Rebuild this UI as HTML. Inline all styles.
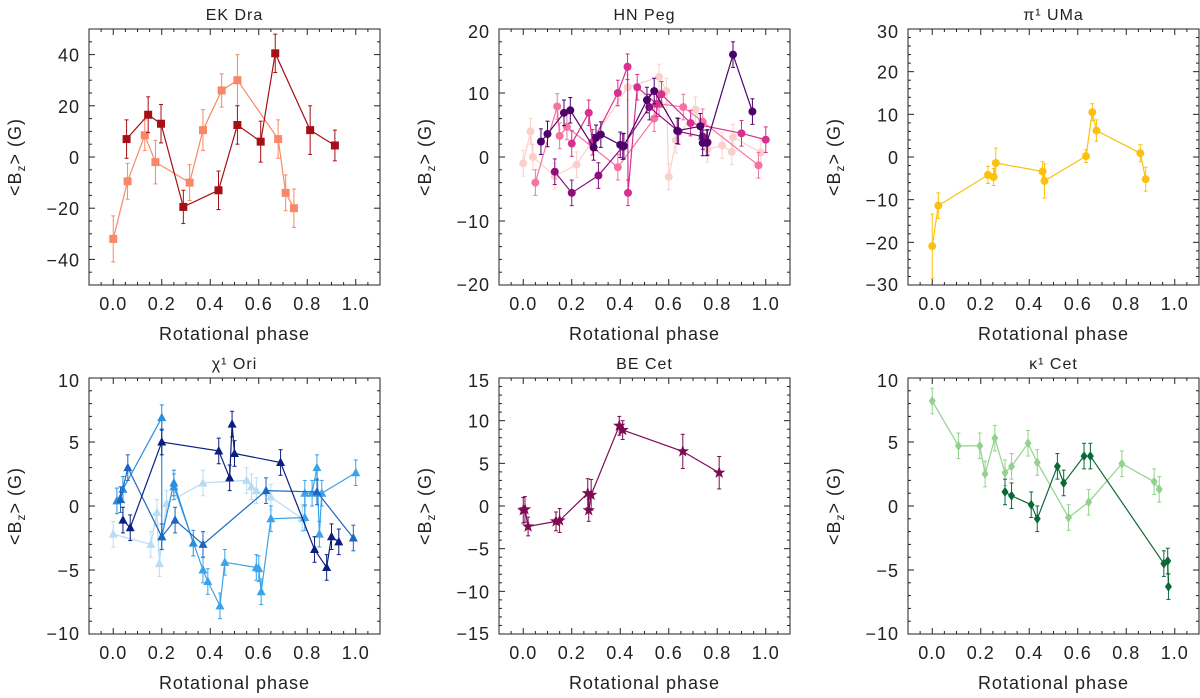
<!DOCTYPE html>
<html><head><meta charset="utf-8">
<style>
html,body{margin:0;padding:0;background:#fff;}
svg{display:block;font-family:"Liberation Sans",Arial,sans-serif;}
</style></head>
<body>
<svg id="fig" width="1200" height="698" viewBox="0 0 1200 698" xmlns="http://www.w3.org/2000/svg"></svg>
<script>
// ---- EK Dra ----
const ekDarkX=[0.055,0.144,0.197,0.289,0.434,0.512,0.608,0.668,0.812,0.914];
const ekDarkY=[7,16.5,13,-19.5,-13,12.5,6,40.5,10.5,4.5];
const ekDarkE=[7.5,7,7.5,6.5,7.5,7.5,8,7.5,9.5,6];
const ekLightX=[0,0.059,0.13,0.174,0.315,0.37,0.447,0.512,0.68,0.711,0.745];
const ekLightY=[-32,-9.5,8.5,-2,-10,10.5,26,30,7,-14,-20];
const ekLightE=[9,7,6,8.5,7,8,6.5,10,7.5,7,7.5];
// ---- HN Peg ----
const hnS1X=[0.073,0.10,0.168,0.194,0.29,0.30,0.32,0.40,0.415,0.51,0.54,0.635,0.73,0.74,0.757,0.865,0.945];
const hnS1Y=[2.4,3.6,6.9,7.3,1.5,3,3.5,1.9,1.7,8.9,10.3,4.1,4.8,2.2,2.2,16,7.1];
const hnS2X=[0.13,0.2,0.31,0.41,0.52,0.64,0.74,0.76];
const hnS2Y=[-2.3,-5.6,-2.9,1.6,7.8,4,3.2,2.3];
const hnS3X=[0.2,0.27,0.285,0.39,0.43,0.432,0.47,0.55,0.57,0.69,0.9,1.0];
const hnS3Y=[2.1,6.9,2.3,10,14.1,-5.6,10.9,8.3,9.8,5.3,3.7,2.7];
const hnS4X=[0.05,0.14,0.15,0.18,0.39,0.54,0.56,0.66,0.74,0.97];
const hnS4Y=[-4,7.9,3.3,4.7,-1.6,6,8.3,7.8,5.5,-1.3];
const hnS5X=[0,0.03,0.04,0.13,0.22,0.43,0.56,0.59,0.6,0.63,0.71,0.76,0.82,0.86,0.865,0.98];
const hnS5Y=[-1,4,0,-3,-1.2,10.9,12.5,10.3,-3.1,2.6,7.4,1.2,1.8,0.8,3.1,0.7];
// ---- pi1 UMa ----
const piX=[0,0.025,0.23,0.253,0.262,0.455,0.463,0.634,0.66,0.677,0.858,0.88];
const piY=[-20.9,-11.4,-4.2,-4.7,-1.4,-3.4,-5.6,0.2,10.5,6.2,0.9,-5.2];
const piE=[7.5,3,2,2,3.5,2.3,4,1.5,2,2.5,2,2.8];
// ---- chi1 Ori ----
const chiAX=[0.04,0.07,0.2,0.435,0.48,0.49,0.5,0.69,0.83,0.88,0.9,0.93];
const chiAY=[-1.1,-1.7,5,4.3,2.2,6.4,4.1,3.4,-3.4,-4.8,-2.4,-2.8];
const chiBX=[0.015,0.04,0.2,0.2,0.25,0.33];
const chiBY=[0.4,1.3,6.9,-2.4,1.8,-2.9];
const chiCX=[0.03,0.06,0.2,0.255,0.37,0.63,0.84,0.99];
const chiCY=[0.5,3,-2.4,-1.1,-3,1.2,1.1,-2.5];
const chiDX=[0.25,0.37,0.39,0.44,0.46,0.59,0.6,0.61,0.65,0.79,0.79,0.82,0.84,0.85,0.86,1.0];
const chiDY=[1.5,-5,-5.9,-7.8,-4.4,-4.8,-4.9,-6.7,-1,-0.9,1,1,3,-2.2,1,2.6];
const chiEX=[0,0.155,0.18,0.19,0.22,0.37,0.55,0.57,0.59,0.65,0.78,0.78];
const chiEY=[-2.2,-3,-0.5,-4.5,0.2,1.8,2,1.5,1.2,0.7,-1,-0.9];
// ---- BE Cet ----
const beX=[0,0.007,0.02,0.135,0.15,0.266,0.27,0.28,0.396,0.41,0.658,0.808];
const beY=[-0.5,-0.4,-2.4,-1.8,-1.7,1.5,-0.5,1.3,9.4,8.9,6.4,3.9];
const beE=[1.5,1.5,1.1,1.1,1.4,1.7,1.3,1.8,1.1,1.1,2,1.9];
// ---- kappa1 Cet ----
const kaLX=[0,0.108,0.196,0.218,0.258,0.3,0.327,0.395,0.433,0.562,0.645,0.782,0.915,0.936];
const kaLY=[8.2,4.7,4.7,2.5,5.3,2.6,3.1,4.9,3.4,-0.9,0.3,3.3,1.9,1.3];
const kaDX=[0.30,0.327,0.408,0.433,0.516,0.542,0.626,0.652,0.955,0.971,0.974];
const kaDY=[1.1,0.8,0.1,-1,3.1,1.8,3.9,3.9,-4.5,-4.3,-6.3];

const NS="http://www.w3.org/2000/svg";
const svg=document.getElementById('fig');
function mk(tag,attrs,parent){const e=document.createElementNS(NS,tag);for(const k in attrs)e.setAttribute(k,attrs[k]);(parent||svg).appendChild(e);return e;}

const panels=[
 {name:'ek-dra',title:'EK Dra',left:89,top:29,ymin:-50,ymax:50,major:20,minor:5,ticks:[-40,-20,0,20,40],
  series:[{n:'ek-dra-light',x:ekLightX,y:ekLightY,e:ekLightE,c:'#f98866',m:'sq'},{n:'ek-dra-dark',x:ekDarkX,y:ekDarkY,e:ekDarkE,c:'#a50f15',m:'sq'}]},
 {name:'hn-peg',title:'HN Peg',left:499,top:29,ymin:-20,ymax:20,major:10,minor:2,ticks:[-20,-10,0,10,20],
  series:[{n:'hn-peg-s5',x:hnS5X,y:hnS5Y,c:'#fbcfcb',m:'ci'},{n:'hn-peg-s4',x:hnS4X,y:hnS4Y,c:'#f4749f',m:'ci'},{n:'hn-peg-s3',x:hnS3X,y:hnS3Y,c:'#d9308f',m:'ci'},{n:'hn-peg-s2',x:hnS2X,y:hnS2Y,c:'#8c0f7e',m:'ci'},{n:'hn-peg-s1',x:hnS1X,y:hnS1Y,c:'#4d026b',m:'ci'}]},
 {name:'pi1-uma',title:'π¹ UMa',left:908,top:29,ymin:-30,ymax:30,major:10,minor:2,ticks:[-30,-20,-10,0,10,20,30],
  series:[{n:'pi1-uma-series',x:piX,y:piY,e:piE,c:'#fcc10f',m:'ci'}]},
 {name:'chi1-ori',title:'χ¹ Ori',left:89,top:378,ymin:-10,ymax:10,major:5,minor:1,ticks:[-10,-5,0,5,10],
  series:[{n:'chi1-ori-e',x:chiEX,y:chiEY,c:'#b7dcf4',m:'tr'},{n:'chi1-ori-d',x:chiDX,y:chiDY,c:'#3aa3ea',m:'tr'},{n:'chi1-ori-b',x:chiBX,y:chiBY,c:'#2a8ee0',m:'tr'},{n:'chi1-ori-c',x:chiCX,y:chiCY,c:'#1a68c2',m:'tr'},{n:'chi1-ori-a',x:chiAX,y:chiAY,c:'#0c1f80',m:'tr'}]},
 {name:'be-cet',title:'BE Cet',left:499,top:378,ymin:-15,ymax:15,major:5,minor:1,ticks:[-15,-10,-5,0,5,10,15],
  series:[{n:'be-cet-series',x:beX,y:beY,e:beE,c:'#7d0a52',m:'st'}]},
 {name:'kappa1-cet',title:'κ¹ Cet',left:908,top:378,ymin:-10,ymax:10,major:5,minor:1,ticks:[-10,-5,0,5,10],
  series:[{n:'kappa1-cet-light',x:kaLX,y:kaLY,c:'#93d28c',m:'di'},{n:'kappa1-cet-dark',x:kaDX,y:kaDY,c:'#0a6a36',m:'di'}]}
];
const W=291,H=256,XMIN=-0.1,XMAX=1.1;
function fmt(v){return v<0?'\u2212'+Math.abs(v):String(v);}
function fmtx(v){return v.toFixed(1);}

panels.forEach(p=>{
 const g=mk('g',{});
 
 
 const sx=v=>p.left+(v-XMIN)/(XMAX-XMIN)*W;
 const sy=v=>p.top+(p.ymax-v)/(p.ymax-p.ymin)*H;
 const B=p.top+H,R=p.left+W;
 const t=mk('text',{x:p.left+W/2,y:p.top-9,'text-anchor':'middle','font-size':16,'letter-spacing':1,fill:'#222'},g);
 t.textContent=p.title;
 
 
 const fr=mk('rect',{x:p.left,y:p.top,width:W,height:H,fill:'none',stroke:'#222','stroke-width':1},g);
 
 
 for(let i=-2;i<=22;i++){const v=i*0.05;const x=sx(v);const maj=(i%4===0);const L=maj?6:3;
  mk('line',{x1:x,x2:x,y1:B,y2:B-L,stroke:'#222'},g);mk('line',{x1:x,x2:x,y1:p.top,y2:p.top+L,stroke:'#222'},g);}
 [0,0.2,0.4,0.6,0.8,1.0].forEach(v=>{const tx=mk('text',{x:sx(v),y:B+25,'text-anchor':'middle','font-size':18,'letter-spacing':1,fill:'#222'},g);tx.textContent=fmtx(v);
  
  });
 const xt=mk('text',{x:p.left+W/2,y:B+55,'text-anchor':'middle','font-size':18,'letter-spacing':1,fill:'#222'},g);xt.textContent='Rotational phase';
 
 
 for(let v=p.ymin;v<=p.ymax+1e-9;v+=p.minor){const y=sy(v);const maj=Math.abs(v/p.major-Math.round(v/p.major))<1e-6;const L=maj?6:3;
  mk('line',{x1:p.left,x2:p.left+L,y1:y,y2:y,stroke:'#222'},g);mk('line',{x1:R,x2:R-L,y1:y,y2:y,stroke:'#222'},g);}
 p.ticks.forEach(v=>{let y=sy(v)+7;if(v===p.ymax)y+=2;if(v===p.ymin)y-=1;
  const ty=mk('text',{x:p.left-9,y:y,'text-anchor':'end','font-size':18,'letter-spacing':1,fill:'#222'},g);ty.textContent=fmt(v);
  
  });
 const yt=mk('text',{x:0,y:0,'text-anchor':'middle','font-size':18,'letter-spacing':1,fill:'#222',transform:`translate(${p.left-68},${p.top+H/2}) rotate(-90)`},g);
 yt.innerHTML='&lt;B<tspan font-size="12" dy="4">z</tspan><tspan dy="-4">&gt;  (G)</tspan>';
 
 
 p.series.forEach(s=>{
  const sg=mk('g',{},g);
  
  
  const pts=s.x.map((xv,i)=>sx(xv)+','+sy(s.y[i])).join(' ');
  mk('polyline',{points:pts,fill:'none',stroke:s.c,'stroke-width':1.2},sg);
  s.x.forEach((xv,i)=>{const cx=sx(xv),cy=sy(s.y[i]);
   const err=s.e?s.e[i]:(p.ymax-p.ymin)*0.05;
   const y1=sy(s.y[i]+err),y2=sy(s.y[i]-err);
   mk('line',{x1:cx,x2:cx,y1:y1,y2:y2,stroke:s.c,'stroke-width':1},sg);
   mk('line',{x1:cx-2,x2:cx+2,y1:y1,y2:y1,stroke:s.c,'stroke-width':1},sg);
   mk('line',{x1:cx-2,x2:cx+2,y1:y2,y2:y2,stroke:s.c,'stroke-width':1},sg);
   let m;
   if(s.m==='sq')m=mk('rect',{x:cx-4,y:cy-4,width:8,height:8,fill:s.c},sg);
   else if(s.m==='ci')m=mk('circle',{cx:cx,cy:cy,r:4,fill:s.c},sg);
   else if(s.m==='tr')m=mk('polygon',{points:`${cx},${cy-5} ${cx-4.5},${cy+3.5} ${cx+4.5},${cy+3.5}`,fill:s.c},sg);
   else if(s.m==='di')m=mk('polygon',{points:`${cx},${cy-5} ${cx-3.5},${cy} ${cx},${cy+5} ${cx+3.5},${cy}`,fill:s.c},sg);
   else {let a=[];for(let k=0;k<10;k++){const r=k%2?2.6:6.5;const ang=-Math.PI/2+k*Math.PI/5;a.push((cx+r*Math.cos(ang)).toFixed(2)+','+(cy+r*Math.sin(ang)).toFixed(2));}
    m=mk('polygon',{points:a.join(' '),fill:s.c},sg);}
   
   
  });
 });
});
</script>
</body></html>
